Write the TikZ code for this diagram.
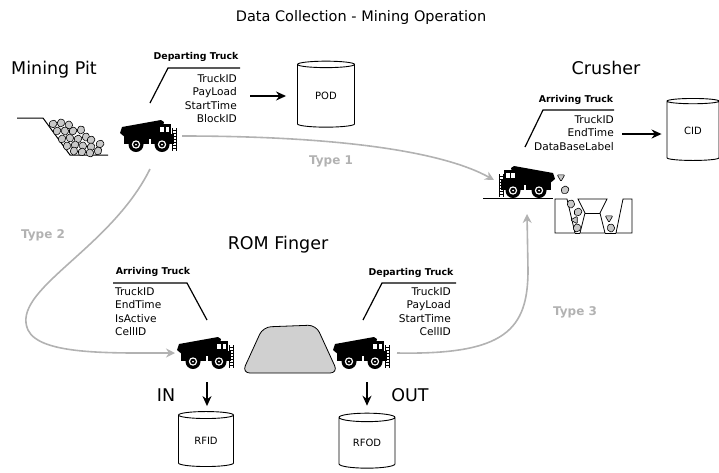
\documentclass[tikz,border=0pt]{standalone}
\usepackage{fontspec}
\setmainfont{DejaVu Sans}
\usetikzlibrary{shapes.geometric}
\usetikzlibrary{arrows.meta}

\definecolor{flowgray}{RGB}{178,178,178}
\definecolor{rockgray}{RGB}{200,200,200}
\definecolor{pilegray}{RGB}{208,208,208}

\tikzset{
  bigtext/.style={font=\fontsize{17.5}{20}\selectfont},
  headtext/.style={font=\fontsize{9.4}{11}\selectfont\bfseries, inner sep=0},
  fields/.style={font=\fontsize{10.6}{13.5}\selectfont, inner sep=0},
  typetext/.style={font=\fontsize{12}{14}\selectfont\bfseries, text=flowgray},
  db/.style={draw, line width=0.9pt, cylinder, shape border rotate=90, aspect=0.3,
    inner sep=0, font=\fontsize{10}{12}\selectfont},
  arr/.style={line width=1.5pt, -{Stealth[length=10pt,width=9pt]}},
  flow/.style={draw=flowgray, line width=1.6pt, -{Stealth[length=9pt,width=9pt]}},
  rockline/.style={fill=rockgray, draw=black, line width=0.6pt, rounded corners=1pt},
  rock/.pic={\path[rockline] (0:4.4) -- (75:4) -- (150:4.5) -- (220:4.1) -- (295:4.4) -- cycle;},
  rocktri/.pic={\path[rockline] (90:4.4) -- (210:4.4) -- (330:4.4) -- cycle;},
  truck/.pic={
    % dump body
    \fill (0,13) -- (2,7) -- (41,0) -- (44,2) -- (41,14) -- (6,18) -- cycle;
    % cab and frame
    \fill (37,4) rectangle (51,19);
    \fill (4,14) rectangle (54,24);
    \fill[white] (40,7) rectangle (44,11.5);
    \fill[white] (45.5,7) rectangle (49,11.5);
    \fill[white] (29,19) rectangle (31,24);
    % ladder
    \draw[line width=0.5pt] (52,8) -- (52,31) (56,8) -- (56,31);
    \foreach \s in {10,13,...,29} \draw[line width=0.5pt] (52,\s) -- (56,\s);
    % wheels
    \foreach \w in {16,42} {
      \fill (\w,24.5) circle (7.5);
      \fill[white] (\w,24.5) circle (4.2);
      \fill (\w,24.5) circle (2.8);
      \fill[white] (\w,24.5) circle (1);
    }
  }
}

\begin{document}
\begin{tikzpicture}[x=1pt, y=-1pt]
\useasboundingbox (0,0) rectangle (719,472);

\node (title) at (361,17) {\fontsize{14.5}{17}\selectfont Data Collection - Mining Operation};

% place names
\node[bigtext] (pitname) at (54,70) {Mining Pit};
\node[bigtext] (crushname) at (606,68) {Crusher};
\node[bigtext] (romname) at (278,245) {ROM Finger};
\node[bigtext] (inname) at (166,395) {IN};
\node[bigtext] (outname) at (410,395) {OUT};

% mining pit
\draw[line width=1pt] (17,118) -- (43,118) -- (70,155) -- (108,155);
\foreach \x/\y/\r in {53/124/0, 61/123/40, 69/125/80, 57/131/20, 65/131/70,
    73/131/10, 81/130/50, 62/139/30, 70/138/90, 78/139/15, 86/137/60, 91/140/5,
    67/146/45, 75/145/25, 83/146/75, 91/147/35, 74/151/55, 82/152/12,
    90/153/85, 98/151/33, 100/144/0}
  \pic[rotate=\r] at (\x,\y) {rock};

% crusher
\draw[line width=0.9pt] (483,198) -- (553,198);
\draw[line width=0.8pt] (555,199) -- (567,199) -- (575,233) -- (555,233) -- cycle;
\draw[line width=0.8pt] (578,199) -- (607,199) -- (600,213) -- (605,233) -- (580,233) -- (585,213) -- cycle;
\draw[line width=0.8pt] (585,213) -- (600,213);
\draw[line width=0.8pt] (623,199) -- (632,199) -- (632,233) -- (616,233) -- cycle;
\draw[line width=0.8pt] (575,233) -- (580,233) (605,233) -- (616,233);
\foreach \x/\y/\r in {565/190/20, 571/204/60, 578/212/10, 577/228/40, 611/228/70}
  \pic[rotate=\r] at (\x,\y) {rock};
\foreach \x/\y/\r in {561/177/0, 575/220/30, 609/218/0}
  \pic[rotate=\r] at (\x,\y) {rocktri};

% stockpile
\draw[fill=pilegray, line width=0.8pt, rounded corners=8pt]
  (242,373) -- (263,327) -- (316,325) -- (338,373) -- cycle;

% trucks
\pic at (120,120) {truck};
\pic[xscale=-1] at (555,166) {truck};
\pic at (177,337) {truck};
\pic at (333,337) {truck};

% departing truck at the pit
\node[headtext] (pithead) at (196,57) {Departing Truck};
\draw[line width=1.2pt] (150,103) -- (168,68) -- (240,68);
\node[fields, align=right, anchor=north east] (pitfields) at (237,74)
  {TruckID\\PayLoad\\StartTime\\BlockID};
\node[db, minimum width=57pt, minimum height=66pt] (pod) at (326,96) {POD};
\coordinate (podtail) at (250,96);
\draw[arr, shorten >=11pt] (podtail) -- (podtail -| pod.west);

% arriving truck at the crusher
\node[headtext] (crushhead) at (576,100) {Arriving Truck};
\draw[line width=1.2pt] (525,147) -- (543,110) -- (614,110);
\node[fields, align=right, anchor=north east] (crushfields) at (614,115)
  {TruckID\\EndTime\\DataBaseLabel};
\node[db, minimum width=52pt, minimum height=62pt] (cid) at (693,131) {CID};
\coordinate (cidtail) at (622,134);
\draw[arr, shorten >=5pt] (cidtail) -- (cidtail -| cid.west);

% arriving truck at the ROM finger
\node[headtext] (inhead) at (153,272) {Arriving Truck};
\draw[line width=1.2pt] (113,283) -- (187,283) -- (207,320);
\node[fields, align=left, anchor=north west] (infields) at (115,287)
  {TruckID\\EndTime\\IsActive\\CellID};
\node[db, minimum width=55pt, minimum height=55pt] (rfid) at (206,441) {RFID};
\coordinate (rfidtail) at (207,382);
\draw[arr, shorten >=5pt] (rfidtail) -- (rfidtail |- rfid.north);

% departing truck at the ROM finger
\node[headtext] (outhead) at (411,273) {Departing Truck};
\draw[line width=1.2pt] (363,320) -- (382,283) -- (456,283);
\node[fields, align=right, anchor=north east] (outfields) at (451,287)
  {TruckID\\PayLoad\\StartTime\\CellID};
\node[db, minimum width=56pt, minimum height=55pt] (rfod) at (367,443) {RFOD};
\coordinate (rfodtail) at (367,382);
\draw[arr, shorten >=7pt] (rfodtail) -- (rfodtail |- rfod.north);

% truck flows
\coordinate (pitout) at (182,136);
\coordinate (pitdown) at (150,169);
\coordinate (crushin) at (494,180);
\coordinate (crushup) at (527,214);
\coordinate (romin) at (175,353);
\coordinate (romout) at (397,353);
\draw[flow] (pitout) .. controls (330,136) and (440,150) .. (crushin);
\draw[flow] (pitdown) .. controls (110,250) and (10,290) .. (28,330)
  .. controls (40,355) and (110,353) .. (romin);
\draw[flow] (romout) .. controls (505,355) and (528,330) .. (528,270) -- (crushup);
\node[typetext] (type1) at (331,161) {Type 1};
\node[typetext] (type2) at (43,235) {Type 2};
\node[typetext] (type3) at (575,312) {Type 3};

\end{tikzpicture}
\end{document}
